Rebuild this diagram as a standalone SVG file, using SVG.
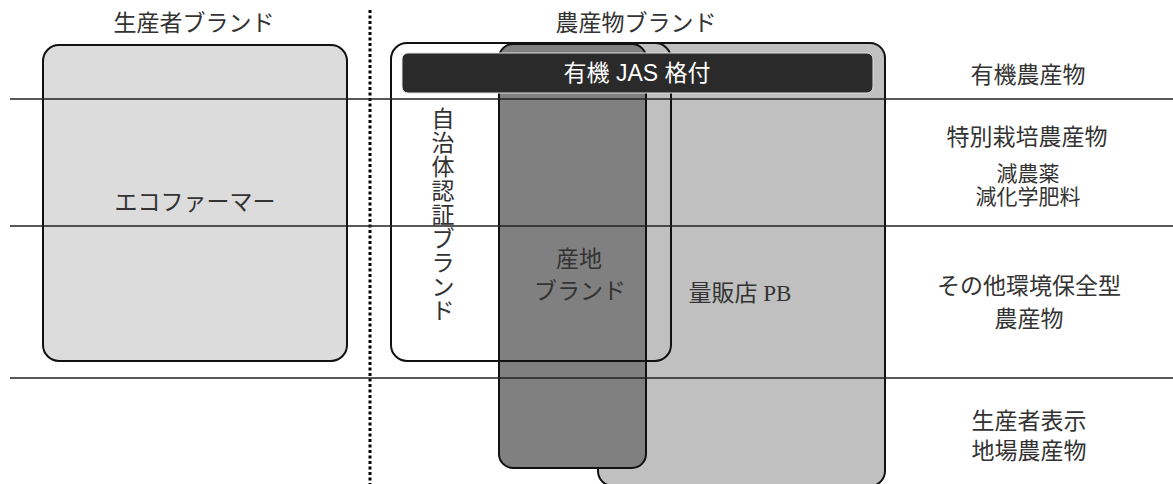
<svg xmlns="http://www.w3.org/2000/svg" width="1173" height="484" viewBox="0 0 1173 484">
<style>
.t{font-family:'Liberation Serif','Noto Sans CJK JP',serif;font-size:23px;fill:#333;text-anchor:middle;dominant-baseline:central}
.s{font-size:21px}
.box{stroke:#111;stroke-width:2}
.hl{stroke:#222;stroke-width:1.4}
</style>
<rect width="1173" height="484" fill="#fff"/>
<g id="headers">
<text class="t" x="194" y="23">生産者ブランド</text>
<text class="t" x="636" y="23">農産物ブランド</text>
</g>
<g id="divider">
<line x1="370" y1="10" x2="370" y2="484" stroke="#000" stroke-width="3" stroke-dasharray="3 2.5"/>
</g>
<g id="producer-brand">
<rect class="box" x="43" y="45" width="304" height="316" rx="16" fill="#dcdcdc"/>
<text class="t" x="195" y="202">エコファーマー</text>
</g>
<g id="retail-pb">
<rect class="box" x="598" y="43" width="287" height="443" rx="15" fill="#c0c0c0"/>
<text class="t" x="740" y="293">量販店 PB</text>
</g>
<g id="origin-brand">
<rect class="box" x="499" y="44" width="147" height="424" rx="14" fill="#808080"/>
<text class="t" x="579" y="259">産地</text>
<text class="t" x="580" y="291">ブランド</text>
</g>
<g id="municipal-brand">
<rect class="box" x="391" y="43" width="280" height="318" rx="16" fill="none"/>
<text class="t" x="443" y="119">自</text>
<text class="t" x="443" y="143">治</text>
<text class="t" x="443" y="167">体</text>
<text class="t" x="443" y="191">認</text>
<text class="t" x="443" y="215">証</text>
<text class="t" x="443" y="239">ブ</text>
<text class="t" x="443" y="263">ラ</text>
<text class="t" x="443" y="287">ン</text>
<text class="t" x="443" y="311">ド</text>
</g>
<g id="jas">
<rect x="402" y="53" width="471" height="40" rx="6" fill="#2a2a2a" stroke="#e0e0e0" stroke-width="1"/>
<text x="637" y="73" font-family="'Liberation Sans','Noto Sans CJK JP',sans-serif" font-size="23" fill="#fff" text-anchor="middle" dominant-baseline="central">有機 JAS 格付</text>
</g>
<g id="connectors">
<line class="hl" x1="10" y1="99" x2="1173" y2="99"/>
<line class="hl" x1="10" y1="226" x2="1173" y2="226"/>
<line class="hl" x1="10" y1="378" x2="1173" y2="378"/>
</g>
<g id="categories">
<text class="t" x="1028" y="75">有機農産物</text>
<text class="t" x="1027" y="137">特別栽培農産物</text>
<text class="t s" x="1028" y="174">減農薬</text>
<text class="t s" x="1028" y="197">減化学肥料</text>
<text class="t" x="1029" y="286">その他環境保全型</text>
<text class="t" x="1029" y="319">農産物</text>
<text class="t" x="1029" y="421">生産者表示</text>
<text class="t" x="1029" y="451">地場農産物</text>
</g>
</svg>
